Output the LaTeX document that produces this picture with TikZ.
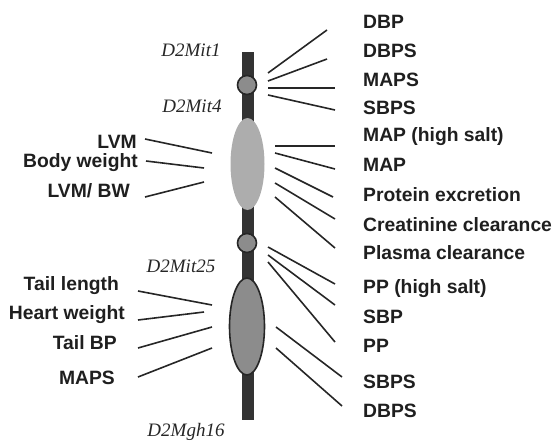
\documentclass[tikz,border=0pt]{standalone}
\usepackage{fontspec}
\setmainfont{Liberation Serif}
\setsansfont{Liberation Sans}
\usetikzlibrary{shapes.geometric}
\begin{document}
\begin{tikzpicture}[x=1pt,y=-1pt,
  lab/.style={font=\sffamily\bfseries\fontsize{19.3}{21}\selectfont, text=black!88, inner sep=0pt},
  llab/.style={lab, anchor=east},
  rlab/.style={lab, anchor=west},
  mname/.style={font=\itshape\fontsize{19}{21}\selectfont, text=black!85, inner sep=0pt},
  conn/.style={draw=black!85, line width=1.6pt},
  chrom/.style={fill=black!80, draw=none},
  locus/.style={circle, draw=black!85, line width=1.6pt, fill=black!45, minimum size=19pt, inner sep=0pt},
]
\useasboundingbox (0,0) rectangle (554,442);
% chromosome
\fill[chrom] (241.5,52) rectangle (253.5,420);
\node[ellipse, fill=black!32, minimum width=34pt, minimum height=92pt, inner sep=0pt] (qa) at (247.5,164) {};
\node[ellipse, draw=black!85, line width=1.6pt, fill=black!45, minimum width=35pt, minimum height=97pt, inner sep=0pt] (qb) at (247,326.5) {};
\node[locus] (m1) at (247,85) {};
\node[locus] (m2) at (247,243) {};
% marker names
\node[mname] (n1) at (191,50) {D2Mit1};
\node[mname] (n2) at (192,106) {D2Mit4};
\node[mname] (n3) at (181,266) {D2Mit25};
\node[mname] (n4) at (186,432) {D2Mgh16};
% left labels
\node[llab] (a1) at (137,142) {LVM};
\node[llab] (a2) at (138,163) {Body weight};
\node[llab] (a3) at (130,191) {LVM/ BW};
\node[llab] (b1) at (119,286) {Tail length};
\node[llab] (b2) at (125,315) {Heart weight};
\node[llab] (b3) at (117,343) {Tail BP};
\node[llab] (b4) at (115,378) {MAPS};
% right labels
\node[rlab] (r1) at (363,22) {DBP};
\node[rlab] (r2) at (363,51) {DBPS};
\node[rlab] (r3) at (363,80) {MAPS};
\node[rlab] (r4) at (363,108) {SBPS};
\node[rlab] (r5) at (363,137) {MAP (high salt)};
\node[rlab] (r6) at (363,165) {MAP};
\node[rlab] (r7) at (363,195) {Protein excretion};
\node[rlab] (r8) at (363,225) {Creatinine clearance};
\node[rlab] (r9) at (363,253) {Plasma clearance};
\node[rlab] (r10) at (363,289) {PP (high salt)};
\node[rlab] (r11) at (363,317) {SBP};
\node[rlab] (r12) at (363,346) {PP};
\node[rlab] (r13) at (363,382) {SBPS};
\node[rlab] (r14) at (363,411) {DBPS};
% connector end points
\coordinate (a1s) at (145,139); \coordinate (a1e) at (212,153);
\coordinate (a2s) at (146,161); \coordinate (a2e) at (204,168);
\coordinate (a3s) at (145,197); \coordinate (a3e) at (204,182);
\coordinate (b1s) at (138,291); \coordinate (b1e) at (212,305);
\coordinate (b2s) at (138,320); \coordinate (b2e) at (204,312);
\coordinate (b3s) at (138,348); \coordinate (b3e) at (212,327);
\coordinate (b4s) at (138,377); \coordinate (b4e) at (212,348);
\coordinate (r1s) at (268,73);  \coordinate (r1e) at (327,30);
\coordinate (r2s) at (268,81);  \coordinate (r2e) at (327,59);
\coordinate (r3s) at (268,88);  \coordinate (r3e) at (335,88);
\coordinate (r4s) at (268,95);  \coordinate (r4e) at (335,110);
\coordinate (r5s) at (275,146); \coordinate (r5e) at (335,146);
\coordinate (r6s) at (275,153); \coordinate (r6e) at (335,169);
\coordinate (r7s) at (275,168); \coordinate (r7e) at (333,197);
\coordinate (r8s) at (275,183); \coordinate (r8e) at (335,219);
\coordinate (r9s) at (275,197); \coordinate (r9e) at (335,248);
\coordinate (r10s) at (268,247); \coordinate (r10e) at (335,284);
\coordinate (r11s) at (268,255); \coordinate (r11e) at (335,305);
\coordinate (r12s) at (268,262); \coordinate (r12e) at (335,342);
\coordinate (r13s) at (276,327); \coordinate (r13e) at (342,377);
\coordinate (r14s) at (276,348); \coordinate (r14e) at (342,406);
\foreach \c in {a1,a2,a3,b1,b2,b3,b4,r1,r2,r3,r4,r5,r6,r7,r8,r9,r10,r11,r12,r13,r14}
  \draw[conn] (\c s) -- (\c e);
\end{tikzpicture}
\end{document}
